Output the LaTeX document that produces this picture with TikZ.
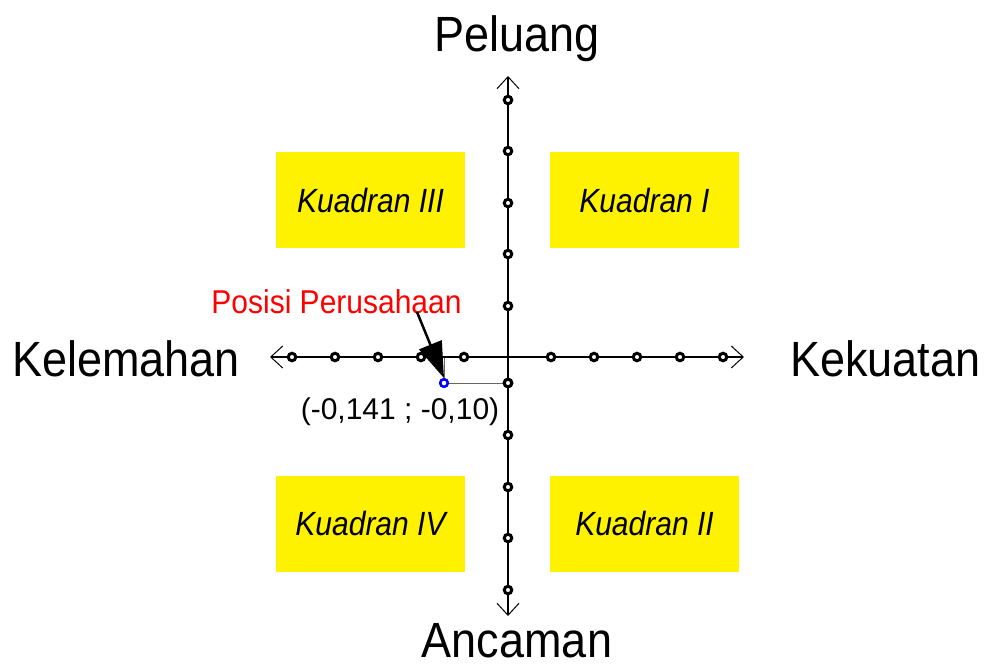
\documentclass[tikz,border=0pt]{standalone}
\usepackage{fontspec}
\setmainfont{Liberation Sans}
\usetikzlibrary{arrows.meta}
% slightly taller lettering
\newcommand{\tallA}[1]{\scalebox{1}[1.1]{#1}}
\newcommand{\tallB}[1]{\scalebox{1}[1.12]{#1}}
\begin{document}
\begin{tikzpicture}[x=1pt,y=-1pt,
  tick/.style={circle,draw=black,fill=white,line width=3pt,minimum size=7.5pt,inner sep=0pt},
  axis/.style={line width=1.3pt,{Straight Barb[length=12pt,width=22pt,line width=1pt]}-{Straight Barb[length=12pt,width=22pt,line width=1pt]}},
  quad/.style={fill=yellow,minimum width=189pt,minimum height=96pt,inner sep=0pt,
    font=\fontsize{30}{36}\selectfont\itshape},
  biglabel/.style={font=\fontsize{45}{54}\selectfont,inner sep=0pt},
  guide/.style={draw=black!60,line width=1pt}]
  \useasboundingbox (0,0) rectangle (984,670);

  % quadrant boxes
  \node[quad] (q3) at (370.5,200) {\tallB{Kuadran III}};
  \node[quad] (q1) at (644.5,200) {\tallB{Kuadran I}};
  \node[quad] (q4) at (370.5,523.5) {\tallB{Kuadran IV}};
  \node[quad] (q2) at (644.5,523.5) {\tallB{Kuadran II}};

  % axes
  \coordinate (xl) at (270,357);
  \coordinate (xr) at (744,357);
  \coordinate (yt) at (508,76);
  \coordinate (yb) at (508,616);

  % guide lines to the company position
  \coordinate (pxa) at (444,357);
  \node[tick,draw=blue,line width=2.4pt] (pos) at (444,383) {};
  \node[tick] (vm1) at (508,383) {};
  \draw[guide] (pxa) -- (pos);
  \draw[guide] (pos) -- (vm1);

  \draw[axis] (xl) -- (xr);
  \draw[axis] (yb) -- (yt);

  % tick marks on the horizontal axis
  \foreach \i/\x in {1/292,2/335,3/378,4/421,5/464,6/551,7/594,8/637,9/680,10/723}
    \node[tick] (h\i) at (\x,357) {};
  % tick marks on the vertical axis
  \foreach \i/\y in {1/100,2/151,3/203,4/254,5/306,7/435,8/487,9/538,10/590}
    \node[tick] (v\i) at (508,\y) {};
  \node[tick] at (vm1) {};
  \node[tick,draw=blue,line width=2.4pt] at (pos) {};

  % axis labels
  \node[biglabel,anchor=base] (peluang) at (517,51) {\tallA{Peluang}};
  \node[biglabel,anchor=base] (ancaman) at (517,657) {\tallA{Ancaman}};
  \node[biglabel,anchor=base west] (kelemahan) at (12,376) {\tallA{Kelemahan}};
  \node[biglabel,anchor=base west] (kekuatan) at (790,376) {\tallA{Kekuatan}};

  % company position
  \node[font=\fontsize{30}{36}\selectfont,text=red,anchor=base,inner sep=0pt] (pp) at (336.5,313) {\tallA{Posisi Perusahaan}};
  \node[font=\fontsize{30}{36}\selectfont,anchor=base,inner sep=0pt] (coord) at (400,419) {(-0,141 ; -0,10)};
  \coordinate (ptail) at (417,312);
  \draw[line width=2.5pt,-{Triangle[length=36pt,width=24pt]}] (ptail) -- (pos.north);
\end{tikzpicture}
\end{document}
